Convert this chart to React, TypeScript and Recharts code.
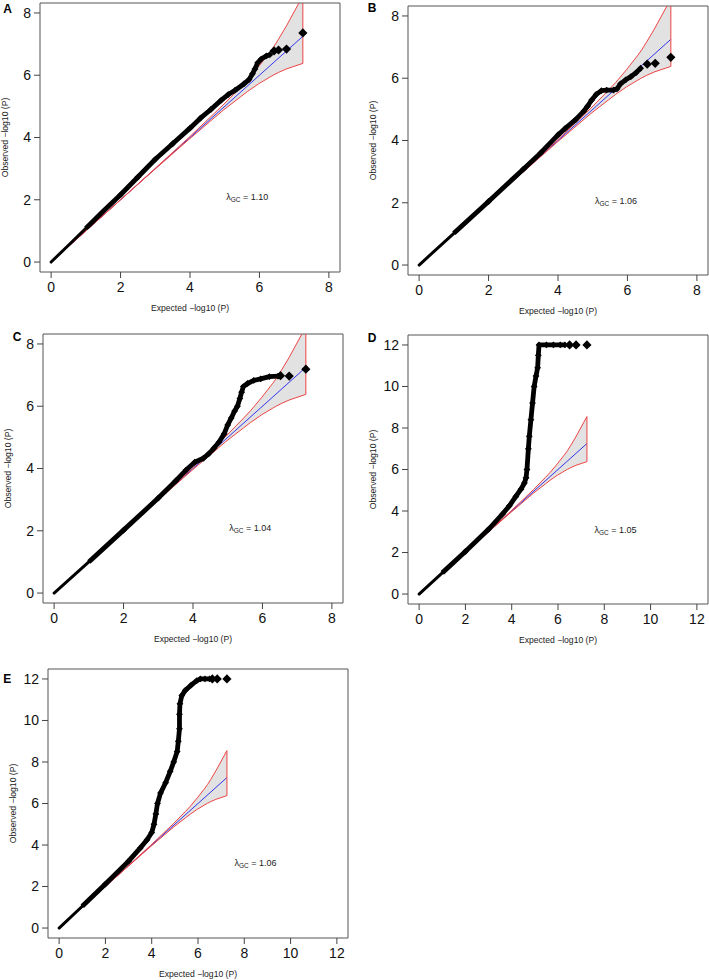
import React from 'react'
import {
  ComposedChart,
  XAxis,
  YAxis,
  Line,
  Area,
  Scatter,
  ReferenceArea,
  ReferenceDot,
} from 'recharts'

type Pt = [number, number]

// null expectation + 95% band, same SNP count in every panel
const bandExpected = [0, 1, 2, 3, 3.95, 4.95, 5.45, 5.66, 5.97, 6.3, 6.41, 6.55, 6.77, 7.25]
const bandUpper = [0, 1.0, 2.0, 3.01, 3.98, 5.04, 5.61, 5.86, 6.27, 6.74, 6.91, 7.16, 7.57, 8.55]
const bandLower = [0, 1.0, 2.0, 2.99, 3.92, 4.87, 5.3, 5.48, 5.72, 5.94, 6.01, 6.09, 6.2, 6.38]
const nullLine: Pt[] = [[0, 0], [7.25, 7.25]]

// observed -log10(P) vs expected, dense run + sparse top hits
const observedA: Pt[] = [
  [0, 0], [0.5, 0.54], [1, 1.08], [1.5, 1.63], [2, 2.16], [2.5, 2.73], [3, 3.3], [3.5, 3.8],
  [4, 4.3], [4.3, 4.62], [4.6, 4.9], [4.9, 5.2], [5.1, 5.38], [5.3, 5.52], [5.55, 5.72],
  [5.7, 5.86], [5.8, 6.05], [5.87, 6.2], [5.95, 6.4], [6.05, 6.52], [6.2, 6.62], [6.3, 6.66],
]
const tailA: Pt[] = [[6.42, 6.78], [6.55, 6.81], [6.78, 6.84], [7.25, 7.36]]

const observedB: Pt[] = [
  [0, 0], [1, 1.02], [2, 2.04], [3, 3.08], [3.5, 3.6], [4, 4.18], [4.2, 4.38], [4.5, 4.66],
  [4.75, 4.95], [4.85, 5.1], [4.97, 5.3], [5.1, 5.48], [5.25, 5.6], [5.4, 5.62], [5.6, 5.62],
  [5.7, 5.66], [5.8, 5.82], [5.95, 5.95], [6.1, 6.05], [6.25, 6.18], [6.38, 6.32],
]
const tailB: Pt[] = [[6.57, 6.45], [6.8, 6.48], [7.25, 6.67]]

const observedC: Pt[] = [
  [0, 0], [1, 1.0], [2, 2.02], [3, 3.05], [3.5, 3.6], [3.8, 3.95], [4.05, 4.2], [4.3, 4.33],
  [4.45, 4.47], [4.6, 4.65], [4.75, 4.85], [4.9, 5.12], [5.0, 5.4], [5.1, 5.62], [5.2, 5.85],
  [5.28, 6.0], [5.35, 6.25], [5.4, 6.45], [5.45, 6.63], [5.57, 6.73], [5.75, 6.83],
  [5.95, 6.88], [6.2, 6.95], [6.45, 6.97],
]
const tailC: Pt[] = [[6.52, 6.98], [6.77, 6.97], [7.25, 7.19]]

const observedD: Pt[] = [
  [0, 0], [1, 1.02], [2, 2.05], [3, 3.12], [3.6, 3.85], [3.9, 4.25], [4.18, 4.7], [4.4, 5.05],
  [4.55, 5.35], [4.62, 5.6], [4.66, 6.0], [4.72, 7.0], [4.76, 7.6], [4.83, 8.4], [4.9, 9.2],
  [4.97, 10.0], [5.05, 10.5], [5.12, 10.9], [5.15, 11.5], [5.18, 12], [5.5, 12], [5.8, 12],
  [6.1, 12], [6.3, 12],
]
const tailD: Pt[] = [[6.5, 12], [6.78, 12], [7.25, 12]]

const observedE: Pt[] = [
  [0, 0], [1, 1.05], [2, 2.12], [3, 3.22], [3.5, 3.85], [3.8, 4.25], [4.0, 4.6], [4.1, 5.0],
  [4.18, 5.5], [4.25, 6.0], [4.38, 6.5], [4.6, 7.0], [4.8, 7.55], [4.95, 8.0], [5.1, 8.5],
  [5.15, 9.0], [5.2, 9.6], [5.2, 10.3], [5.22, 10.8], [5.3, 11.2], [5.45, 11.45], [5.7, 11.7],
  [5.95, 11.92], [6.1, 12], [6.3, 12], [6.5, 12],
]
const tailE: Pt[] = [[6.62, 12], [6.83, 12], [7.25, 12]]

const lambdas = ['1.10', '1.06', '1.04', '1.05', '1.06']
const letters = ['A', 'B', 'C', 'D', 'E']
const ticks8 = [0, 2, 4, 6, 8]
const ticks12 = [0, 2, 4, 6, 8, 10, 12]

const FONT = '"Liberation Sans", Arial, Helvetica, sans-serif'
const RED = '#ee4444'
const BLUE = '#3535ee'

const toXY = (pts: Pt[]) => pts.map(([x, y]) => ({ x, y }))

function SmallDiamond(props: any) {
  const { cx, cy } = props
  const s = 3.4
  return <polygon points={`${cx},${cy - s} ${cx + s},${cy} ${cx},${cy + s} ${cx - s},${cy}`} fill="#000" />
}

function BigDiamond(props: any) {
  const { cx, cy } = props
  const s = 4.6
  return <polygon points={`${cx},${cy - s} ${cx + s},${cy} ${cx},${cy + s} ${cx - s},${cy}`} fill="#000" />
}

function XTitle(props: any) {
  const vb = props.viewBox
  return (
    <text x={vb.x + vb.width / 2} y={vb.y + 39} textAnchor="middle" fontSize={8.6} fill="#222">
      Expected −log10 (P)
    </text>
  )
}

function YTitle(props: any) {
  const vb = props.viewBox
  const x = vb.x + vb.width - 32.5
  const y = vb.y + vb.height / 2
  return (
    <text x={x} y={y} transform={`rotate(-90, ${x}, ${y})`} textAnchor="middle" fontSize={8.6} fill="#222">
      Observed −log10 (P)
    </text>
  )
}

function lambdaLabel(value: string) {
  return (props: any) => {
    const vb = props.viewBox
    const cx = vb.x + vb.width / 2
    const cy = vb.y + vb.height / 2
    return (
      <text x={cx} y={cy + 3} textAnchor="middle" fontSize={9} fill="#222">
        λ<tspan fontSize={6.5} dy={2}>GC</tspan>
        <tspan dy={-2}> = {value}</tspan>
      </text>
    )
  }
}

interface PanelProps {
  idx: number
  observed: Pt[]
  tail: Pt[]
  max: number
  ticks: number[]
  boxLeft: number
  boxTop: number
  letterLeft: number
  letterTop: number
  noteX: number
  noteY: number
}

function QQPanel(p: PanelProps) {
  const pad = p.max * 0.04
  const domain = [-pad, p.max + pad]
  const band = bandExpected.map((x, i) => ({
    x,
    range: [bandLower[i], bandUpper[i]],
    up: bandUpper[i],
    lo: bandLower[i],
  }))
  const last = bandExpected.length - 1
  const edge = [
    { x: bandExpected[last], y: bandLower[last] },
    { x: bandExpected[last], y: bandUpper[last] },
  ]
  const obs = toXY(p.observed)
  // points get denser (thicker trace) away from the origin
  const obsUpper = obs.filter((d) => d.x >= 1)
  const obsDots = obs.filter((d) => d.x > 1.5)

  return (
    <>
      <div
        style={{
          position: 'absolute',
          left: p.letterLeft,
          top: p.letterTop,
          font: `bold 12px ${FONT}`,
          lineHeight: '12px',
        }}
      >
        {letters[p.idx]}
      </div>
      <div style={{ position: 'absolute', left: p.boxLeft - 42, top: p.boxTop - 5 }}>
        <ComposedChart width={344} height={319} margin={{ top: 5, right: 2, bottom: 0, left: 0 }}>
          <XAxis
            type="number"
            dataKey="x"
            domain={domain}
            ticks={p.ticks}
            interval={0}
            allowDataOverflow
            axisLine={false}
            tickLine={{ stroke: '#444' }}
            tickSize={6}
            tickMargin={4}
            tick={{ fontSize: 14, fill: '#111' }}
            height={45}
            label={XTitle}
          />
          <YAxis
            type="number"
            dataKey="y"
            domain={domain}
            ticks={p.ticks}
            interval={0}
            allowDataOverflow
            axisLine={false}
            tickLine={{ stroke: '#444' }}
            tickSize={6}
            tickMargin={3}
            tick={{ fontSize: 14, fill: '#111' }}
            width={42}
            label={YTitle}
          />
          <Area
            data={band}
            dataKey="range"
            type="linear"
            stroke="none"
            fill="#e2e2e2"
            fillOpacity={1}
            isAnimationActive={false}
          />
          <Line data={toXY(nullLine)} dataKey="y" stroke={BLUE} strokeWidth={1} dot={false} activeDot={false} isAnimationActive={false} />
          <Line data={band} dataKey="up" stroke={RED} strokeWidth={1} dot={false} activeDot={false} isAnimationActive={false} />
          <Line data={band} dataKey="lo" stroke={RED} strokeWidth={1} dot={false} activeDot={false} isAnimationActive={false} />
          <Line data={edge} dataKey="y" stroke={RED} strokeWidth={1} dot={false} activeDot={false} isAnimationActive={false} />
          <Line
            data={obs}
            dataKey="y"
            stroke="#000"
            strokeWidth={3}
            strokeLinejoin="round"
            strokeLinecap="round"
            dot={false}
            activeDot={false}
            isAnimationActive={false}
          />
          <Line
            data={obsUpper}
            dataKey="y"
            stroke="#000"
            strokeWidth={4.8}
            strokeLinejoin="round"
            strokeLinecap="butt"
            dot={false}
            activeDot={false}
            isAnimationActive={false}
          />
          <Scatter data={obsDots} dataKey="y" shape={SmallDiamond} isAnimationActive={false} />
          <Scatter data={toXY(p.tail)} dataKey="y" shape={BigDiamond} isAnimationActive={false} />
          <ReferenceDot x={p.noteX} y={p.noteY} r={1} fill="none" stroke="none" label={lambdaLabel(lambdas[p.idx])} />
          <ReferenceArea
            x1={domain[0]}
            x2={domain[1]}
            y1={domain[0]}
            y2={domain[1]}
            fill="none"
            fillOpacity={0}
            stroke="#555"
            strokeWidth={1}
          />
        </ComposedChart>
      </div>
    </>
  )
}

export default function App() {
  return (
    <div
      style={{
        position: 'absolute',
        left: 0,
        top: 0,
        width: 709,
        height: 980,
        overflow: 'hidden',
        background: '#fff',
        fontFamily: FONT,
      }}
    >
      <QQPanel idx={0} observed={observedA} tail={tailA} max={8} ticks={ticks8}
        boxLeft={40} boxTop={3} letterLeft={3.3} letterTop={3.4} noteX={5.65} noteY={2.08} />
      <QQPanel idx={1} observed={observedB} tail={tailB} max={8} ticks={ticks8}
        boxLeft={408} boxTop={6} letterLeft={367.7} letterTop={2.4} noteX={5.67} noteY={2.06} />
      <QQPanel idx={2} observed={observedC} tail={tailC} max={8} ticks={ticks8}
        boxLeft={43} boxTop={334} letterLeft={12.7} letterTop={331.1} noteX={5.65} noteY={2.09} />
      <QQPanel idx={3} observed={observedD} tail={tailD} max={12} ticks={ticks12}
        boxLeft={408} boxTop={335} letterLeft={367.7} letterTop={331.7} noteX={8.48} noteY={3.08} />
      <QQPanel idx={4} observed={observedE} tail={tailE} max={12} ticks={ticks12}
        boxLeft={48} boxTop={669} letterLeft={3.3} letterTop={673.4} noteX={8.48} noteY={3.15} />
    </div>
  )
}
